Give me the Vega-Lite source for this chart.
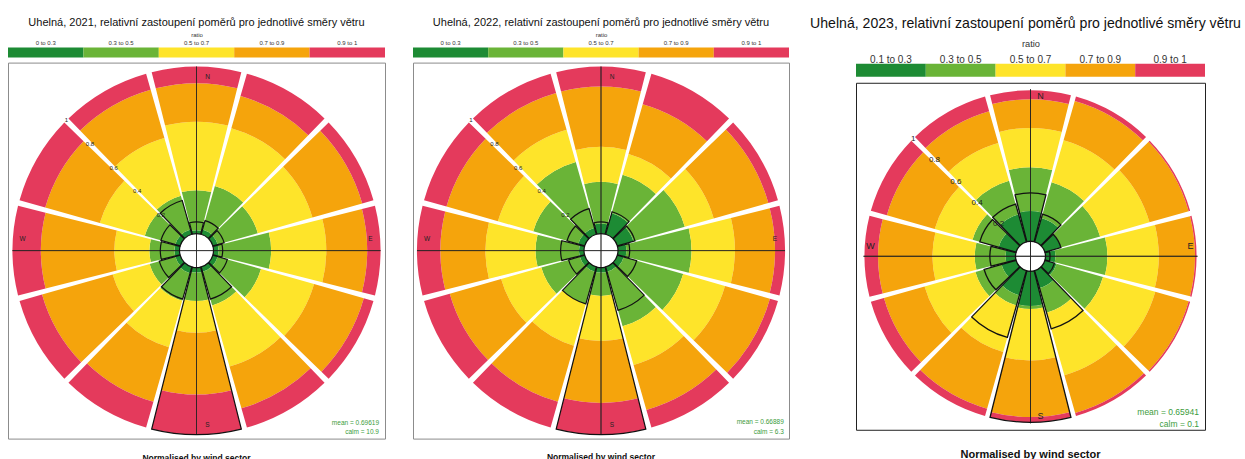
{
  "$schema": "https://vega.github.io/schema/vega-lite/v6.json",
  "padding": {"left": 7, "top": 15.5, "right": 0, "bottom": 0},
  "autosize": {"type": "pad"},
  "config": {"font": "Liberation Sans", "view": {"stroke": "#8c8c8c", "strokeWidth": 1}},
  "datasets": {
    "key12": [{"c": "0 to 0.3"}, {"c": "0.3 to 0.5"}, {"c": "0.5 to 0.7"}, {"c": "0.7 to 0.9"}, {"c": "0.9 to 1"}],
    "key3": [{"c": "0.1 to 0.3"}, {"c": "0.3 to 0.5"}, {"c": "0.5 to 0.7"}, {"c": "0.7 to 0.9"}, {"c": "0.9 to 1"}],
    "a21": [
      {"d":0,"c":"0 to 0.3","lo":0,"hi":0.02},{"d":0,"c":"0.3 to 0.5","lo":0.02,"hi":0.26},{"d":0,"c":"0.5 to 0.7","lo":0.26,"hi":0.67},{"d":0,"c":"0.7 to 0.9","lo":0.67,"hi":0.9},{"d":0,"c":"0.9 to 1","lo":0.9,"hi":1},
      {"d":30,"c":"0 to 0.3","lo":0,"hi":0.03},{"d":30,"c":"0.3 to 0.5","lo":0.03,"hi":0.3},{"d":30,"c":"0.5 to 0.7","lo":0.3,"hi":0.66},{"d":30,"c":"0.7 to 0.9","lo":0.66,"hi":0.86},{"d":30,"c":"0.9 to 1","lo":0.86,"hi":1},
      {"d":60,"c":"0 to 0.3","lo":0,"hi":0.03},{"d":60,"c":"0.3 to 0.5","lo":0.03,"hi":0.28},{"d":60,"c":"0.5 to 0.7","lo":0.28,"hi":0.62},{"d":60,"c":"0.7 to 0.9","lo":0.62,"hi":0.93},{"d":60,"c":"0.9 to 1","lo":0.93,"hi":1},
      {"d":90,"c":"0 to 0.3","lo":0,"hi":0.03},{"d":90,"c":"0.3 to 0.5","lo":0.03,"hi":0.345},{"d":90,"c":"0.5 to 0.7","lo":0.345,"hi":0.675},{"d":90,"c":"0.7 to 0.9","lo":0.675,"hi":0.92},{"d":90,"c":"0.9 to 1","lo":0.92,"hi":1},
      {"d":120,"c":"0 to 0.3","lo":0,"hi":0.03},{"d":120,"c":"0.3 to 0.5","lo":0.03,"hi":0.3},{"d":120,"c":"0.5 to 0.7","lo":0.3,"hi":0.63},{"d":120,"c":"0.7 to 0.9","lo":0.63,"hi":0.94},{"d":120,"c":"0.9 to 1","lo":0.94,"hi":1},
      {"d":150,"c":"0 to 0.3","lo":0,"hi":0.03},{"d":150,"c":"0.3 to 0.5","lo":0.03,"hi":0.24},{"d":150,"c":"0.5 to 0.7","lo":0.24,"hi":0.62},{"d":150,"c":"0.7 to 0.9","lo":0.62,"hi":0.88},{"d":150,"c":"0.9 to 1","lo":0.88,"hi":1},
      {"d":180,"c":"0 to 0.3","lo":0,"hi":0.03},{"d":180,"c":"0.3 to 0.5","lo":0.03,"hi":0.2},{"d":180,"c":"0.5 to 0.7","lo":0.2,"hi":0.39},{"d":180,"c":"0.7 to 0.9","lo":0.39,"hi":0.76},{"d":180,"c":"0.9 to 1","lo":0.76,"hi":1},
      {"d":210,"c":"0 to 0.3","lo":0,"hi":0.04},{"d":210,"c":"0.3 to 0.5","lo":0.04,"hi":0.21},{"d":210,"c":"0.5 to 0.7","lo":0.21,"hi":0.5},{"d":210,"c":"0.7 to 0.9","lo":0.5,"hi":0.84},{"d":210,"c":"0.9 to 1","lo":0.84,"hi":1},
      {"d":240,"c":"0 to 0.3","lo":0,"hi":0.03},{"d":240,"c":"0.3 to 0.5","lo":0.03,"hi":0.19},{"d":240,"c":"0.5 to 0.7","lo":0.19,"hi":0.42},{"d":240,"c":"0.7 to 0.9","lo":0.42,"hi":0.86},{"d":240,"c":"0.9 to 1","lo":0.86,"hi":1},
      {"d":270,"c":"0 to 0.3","lo":0,"hi":0.03},{"d":270,"c":"0.3 to 0.5","lo":0.03,"hi":0.18},{"d":270,"c":"0.5 to 0.7","lo":0.18,"hi":0.39},{"d":270,"c":"0.7 to 0.9","lo":0.39,"hi":0.83},{"d":270,"c":"0.9 to 1","lo":0.83,"hi":1},
      {"d":300,"c":"0 to 0.3","lo":0,"hi":0.03},{"d":300,"c":"0.3 to 0.5","lo":0.03,"hi":0.22},{"d":300,"c":"0.5 to 0.7","lo":0.22,"hi":0.5},{"d":300,"c":"0.7 to 0.9","lo":0.5,"hi":0.84},{"d":300,"c":"0.9 to 1","lo":0.84,"hi":1},
      {"d":330,"c":"0 to 0.3","lo":0,"hi":0.03},{"d":330,"c":"0.3 to 0.5","lo":0.03,"hi":0.24},{"d":330,"c":"0.5 to 0.7","lo":0.24,"hi":0.6},{"d":330,"c":"0.7 to 0.9","lo":0.6,"hi":0.9},{"d":330,"c":"0.9 to 1","lo":0.9,"hi":1}
    ],
    "a22": [
      {"d":0,"c":"0 to 0.3","lo":0,"hi":0.06},{"d":0,"c":"0.3 to 0.5","lo":0.06,"hi":0.31},{"d":0,"c":"0.5 to 0.7","lo":0.31,"hi":0.52},{"d":0,"c":"0.7 to 0.9","lo":0.52,"hi":0.88},{"d":0,"c":"0.9 to 1","lo":0.88,"hi":1},
      {"d":30,"c":"0 to 0.3","lo":0,"hi":0.13},{"d":30,"c":"0.3 to 0.5","lo":0.13,"hi":0.37},{"d":30,"c":"0.5 to 0.7","lo":0.37,"hi":0.5},{"d":30,"c":"0.7 to 0.9","lo":0.5,"hi":0.81},{"d":30,"c":"0.9 to 1","lo":0.81,"hi":1},
      {"d":60,"c":"0 to 0.3","lo":0,"hi":0.1},{"d":60,"c":"0.3 to 0.5","lo":0.1,"hi":0.42},{"d":60,"c":"0.5 to 0.7","lo":0.42,"hi":0.6},{"d":60,"c":"0.7 to 0.9","lo":0.6,"hi":0.94},{"d":60,"c":"0.9 to 1","lo":0.94,"hi":1},
      {"d":90,"c":"0 to 0.3","lo":0,"hi":0.05},{"d":90,"c":"0.3 to 0.5","lo":0.05,"hi":0.44},{"d":90,"c":"0.5 to 0.7","lo":0.44,"hi":0.7},{"d":90,"c":"0.7 to 0.9","lo":0.7,"hi":0.94},{"d":90,"c":"0.9 to 1","lo":0.94,"hi":1},
      {"d":120,"c":"0 to 0.3","lo":0,"hi":0.04},{"d":120,"c":"0.3 to 0.5","lo":0.04,"hi":0.41},{"d":120,"c":"0.5 to 0.7","lo":0.41,"hi":0.67},{"d":120,"c":"0.7 to 0.9","lo":0.67,"hi":0.95},{"d":120,"c":"0.9 to 1","lo":0.95,"hi":1},
      {"d":150,"c":"0 to 0.3","lo":0,"hi":0.03},{"d":150,"c":"0.3 to 0.5","lo":0.03,"hi":0.37},{"d":150,"c":"0.5 to 0.7","lo":0.37,"hi":0.61},{"d":150,"c":"0.7 to 0.9","lo":0.61,"hi":0.89},{"d":150,"c":"0.9 to 1","lo":0.89,"hi":1},
      {"d":180,"c":"0 to 0.3","lo":0,"hi":0.03},{"d":180,"c":"0.3 to 0.5","lo":0.03,"hi":0.17},{"d":180,"c":"0.5 to 0.7","lo":0.17,"hi":0.44},{"d":180,"c":"0.7 to 0.9","lo":0.44,"hi":0.81},{"d":180,"c":"0.9 to 1","lo":0.81,"hi":1},
      {"d":210,"c":"0 to 0.3","lo":0,"hi":0.03},{"d":210,"c":"0.3 to 0.5","lo":0.03,"hi":0.23},{"d":210,"c":"0.5 to 0.7","lo":0.23,"hi":0.49},{"d":210,"c":"0.7 to 0.9","lo":0.49,"hi":0.84},{"d":210,"c":"0.9 to 1","lo":0.84,"hi":1},
      {"d":240,"c":"0 to 0.3","lo":0,"hi":0.03},{"d":240,"c":"0.3 to 0.5","lo":0.03,"hi":0.27},{"d":240,"c":"0.5 to 0.7","lo":0.27,"hi":0.52},{"d":240,"c":"0.7 to 0.9","lo":0.52,"hi":0.84},{"d":240,"c":"0.9 to 1","lo":0.84,"hi":1},
      {"d":270,"c":"0 to 0.3","lo":0,"hi":0.03},{"d":270,"c":"0.3 to 0.5","lo":0.03,"hi":0.29},{"d":270,"c":"0.5 to 0.7","lo":0.29,"hi":0.59},{"d":270,"c":"0.7 to 0.9","lo":0.59,"hi":0.86},{"d":270,"c":"0.9 to 1","lo":0.86,"hi":1},
      {"d":300,"c":"0 to 0.3","lo":0,"hi":0.04},{"d":300,"c":"0.3 to 0.5","lo":0.04,"hi":0.32},{"d":300,"c":"0.5 to 0.7","lo":0.32,"hi":0.54},{"d":300,"c":"0.7 to 0.9","lo":0.54,"hi":0.86},{"d":300,"c":"0.9 to 1","lo":0.86,"hi":1},
      {"d":330,"c":"0 to 0.3","lo":0,"hi":0.04},{"d":330,"c":"0.3 to 0.5","lo":0.04,"hi":0.45},{"d":330,"c":"0.5 to 0.7","lo":0.45,"hi":0.65},{"d":330,"c":"0.7 to 0.9","lo":0.65,"hi":0.88},{"d":330,"c":"0.9 to 1","lo":0.88,"hi":1}
    ],
    "a23": [
      {"d":0,"c":"0.1 to 0.3","lo":0,"hi":0.2},{"d":0,"c":"0.3 to 0.5","lo":0.2,"hi":0.49},{"d":0,"c":"0.5 to 0.7","lo":0.49,"hi":0.75},{"d":0,"c":"0.7 to 0.9","lo":0.75,"hi":0.94},{"d":0,"c":"0.9 to 1","lo":0.94,"hi":1},
      {"d":30,"c":"0.1 to 0.3","lo":0,"hi":0.165},{"d":30,"c":"0.3 to 0.5","lo":0.165,"hi":0.41},{"d":30,"c":"0.5 to 0.7","lo":0.41,"hi":0.7},{"d":30,"c":"0.7 to 0.9","lo":0.7,"hi":0.97},{"d":30,"c":"0.9 to 1","lo":0.97,"hi":1},
      {"d":60,"c":"0.1 to 0.3","lo":0,"hi":0.11},{"d":60,"c":"0.3 to 0.5","lo":0.11,"hi":0.38},{"d":60,"c":"0.5 to 0.7","lo":0.38,"hi":0.72},{"d":60,"c":"0.7 to 0.9","lo":0.72,"hi":0.99},{"d":60,"c":"0.9 to 1","lo":0.99,"hi":1},
      {"d":90,"c":"0.1 to 0.3","lo":0,"hi":0.066},{"d":90,"c":"0.3 to 0.5","lo":0.066,"hi":0.41},{"d":90,"c":"0.5 to 0.7","lo":0.41,"hi":0.75},{"d":90,"c":"0.7 to 0.9","lo":0.75,"hi":0.99},{"d":90,"c":"0.9 to 1","lo":0.99,"hi":1},
      {"d":120,"c":"0.1 to 0.3","lo":0,"hi":0.08},{"d":120,"c":"0.3 to 0.5","lo":0.08,"hi":0.4},{"d":120,"c":"0.5 to 0.7","lo":0.4,"hi":0.76},{"d":120,"c":"0.7 to 0.9","lo":0.76,"hi":0.99},{"d":120,"c":"0.9 to 1","lo":0.99,"hi":1},
      {"d":150,"c":"0.1 to 0.3","lo":0,"hi":0.12},{"d":150,"c":"0.3 to 0.5","lo":0.12,"hi":0.29},{"d":150,"c":"0.5 to 0.7","lo":0.29,"hi":0.72},{"d":150,"c":"0.7 to 0.9","lo":0.72,"hi":0.98},{"d":150,"c":"0.9 to 1","lo":0.98,"hi":1},
      {"d":180,"c":"0.1 to 0.3","lo":0,"hi":0.23},{"d":180,"c":"0.3 to 0.5","lo":0.23,"hi":0.25},{"d":180,"c":"0.5 to 0.7","lo":0.25,"hi":0.59},{"d":180,"c":"0.7 to 0.9","lo":0.59,"hi":0.965},{"d":180,"c":"0.9 to 1","lo":0.965,"hi":1},
      {"d":210,"c":"0.1 to 0.3","lo":0,"hi":0.17},{"d":210,"c":"0.3 to 0.5","lo":0.17,"hi":0.24},{"d":210,"c":"0.5 to 0.7","lo":0.24,"hi":0.56},{"d":210,"c":"0.7 to 0.9","lo":0.56,"hi":0.95},{"d":210,"c":"0.9 to 1","lo":0.95,"hi":1},
      {"d":240,"c":"0.1 to 0.3","lo":0,"hi":0.1},{"d":240,"c":"0.3 to 0.5","lo":0.1,"hi":0.28},{"d":240,"c":"0.5 to 0.7","lo":0.28,"hi":0.63},{"d":240,"c":"0.7 to 0.9","lo":0.63,"hi":0.91},{"d":240,"c":"0.9 to 1","lo":0.91,"hi":1},
      {"d":270,"c":"0.1 to 0.3","lo":0,"hi":0.066},{"d":270,"c":"0.3 to 0.5","lo":0.066,"hi":0.27},{"d":270,"c":"0.5 to 0.7","lo":0.27,"hi":0.55},{"d":270,"c":"0.7 to 0.9","lo":0.55,"hi":0.91},{"d":270,"c":"0.9 to 1","lo":0.91,"hi":1},
      {"d":300,"c":"0.1 to 0.3","lo":0,"hi":0.12},{"d":300,"c":"0.3 to 0.5","lo":0.12,"hi":0.3},{"d":300,"c":"0.5 to 0.7","lo":0.3,"hi":0.56},{"d":300,"c":"0.7 to 0.9","lo":0.56,"hi":0.89},{"d":300,"c":"0.9 to 1","lo":0.89,"hi":1},
      {"d":330,"c":"0.1 to 0.3","lo":0,"hi":0.19},{"d":330,"c":"0.3 to 0.5","lo":0.19,"hi":0.42},{"d":330,"c":"0.5 to 0.7","lo":0.42,"hi":0.68},{"d":330,"c":"0.7 to 0.9","lo":0.68,"hi":0.9},{"d":330,"c":"0.9 to 1","lo":0.9,"hi":1}
    ],
    "f21": [{"d":0,"f":0.07},{"d":30,"f":0.085},{"d":60,"f":0.07},{"d":90,"f":0.055},{"d":120,"f":0.09},{"d":150,"f":0.2},{"d":180,"f":1},{"d":210,"f":0.2},{"d":240,"f":0.13},{"d":270,"f":0.115},{"d":300,"f":0.12},{"d":330,"f":0.21}],
    "f22": [{"d":0,"f":0.07},{"d":30,"f":0.14},{"d":60,"f":0.11},{"d":90,"f":0.07},{"d":120,"f":0.12},{"d":150,"f":0.27},{"d":180,"f":1},{"d":210,"f":0.23},{"d":240,"f":0.1},{"d":270,"f":0.14},{"d":300,"f":0.11},{"d":330,"f":0.16}],
    "f23": [{"d":0,"f":0.32},{"d":30,"f":0.19},{"d":60,"f":0.11},{"d":90,"f":0.03},{"d":120,"f":0.066},{"d":150,"f":0.4},{"d":180,"f":1},{"d":210,"f":0.46},{"d":240,"f":0.22},{"d":270,"f":0.17},{"d":300,"f":0.25},{"d":330,"f":0.26}],
    "spokes": [{"dir":0},{"dir":90},{"dir":180},{"dir":270}],
    "ns": [{"lab":"N","dir":0},{"lab":"S","dir":180}],
    "ew": [{"lab":"E","dir":90},{"lab":"W","dir":270}],
    "rlab": [{"t":"0.2","v":0.2},{"t":"0.4","v":0.4},{"t":"0.6","v":0.6},{"t":"0.8","v":0.8},{"t":"1","v":1}],
    "one": [{}]
  },
  "resolve": {"scale": {"color": "independent", "theta": "independent", "radius": "independent", "x": "independent", "y": "independent"}},
  "spacing": 19,
  "center": true,
  "hconcat": [
    {
      "spacing": 26,
      "resolve": {"scale": {"color": "independent", "theta": "independent", "radius": "independent", "x": "independent", "y": "independent"}},
      "hconcat": [
        {
          "width": 377, "height": 376,
          "title": {"text": "Uhelná, 2021, relativní zastoupení poměrů pro jednotlivé směry větru", "fontSize": 11, "fontWeight": "normal", "color": "#111", "anchor": "middle", "frame": "group", "offset": 4},
          "resolve": {"scale": {"theta": "independent", "radius": "independent"}},
          "layer": [
            {"data": {"name": "key12"}, "mark": {"type": "rect"}, "encoding": {
              "x": {"field": "c", "type": "nominal", "sort": null, "scale": {"domain": ["0 to 0.3","0.3 to 0.5","0.5 to 0.7","0.7 to 0.9","0.9 to 1"], "paddingInner": 0, "paddingOuter": 0}, "axis": {"orient": "top", "offset": 15, "title": "ratio", "titleFontSize": 6, "titleFontWeight": "normal", "titleColor": "#333", "titlePadding": 2, "labelFontSize": 6, "labelColor": "#333", "labelPadding": 2, "labelAngle": 0, "ticks": false, "domain": false, "grid": false}},
              "y": {"datum": 0, "type": "quantitative", "scale": {"domain": [0, 1], "range": [-5, -15]}, "axis": null},
              "y2": {"datum": 1},
              "color": {"field": "c", "type": "nominal", "scale": {"domain": ["0 to 0.3","0.3 to 0.5","0.5 to 0.7","0.7 to 0.9","0.9 to 1"], "range": ["#1d8b34","#6ab437","#fee42a","#f5a40c","#e43a5c"]}, "legend": null}}},
            {"data": {"name": "a21"}, "mark": {"type": "arc"}, "encoding": {
              "theta": {"field": "d", "type": "ordinal", "scale": {"type": "band", "domain": [0,30,60,90,120,150,180,210,240,270,300,330], "range": [-0.261799, 6.021386], "paddingInner": 0.06, "paddingOuter": 0.03}},
              "radius": {"field": "lo", "type": "quantitative", "scale": {"type": "linear", "domain": [0, 1], "range": [17, 184], "zero": false}},
              "radius2": {"field": "hi"},
              "color": {"field": "c", "type": "nominal", "scale": {"domain": ["0 to 0.3","0.3 to 0.5","0.5 to 0.7","0.7 to 0.9","0.9 to 1"], "range": ["#1d8b34","#6ab437","#fee42a","#f5a40c","#e43a5c"]}, "legend": null}}},
            {"data": {"name": "spokes"}, "mark": {"type": "arc", "fillOpacity": 0, "stroke": "#222", "strokeWidth": 0.7}, "encoding": {
              "theta": {"field": "dir", "type": "quantitative", "scale": {"domain": [0, 360], "range": [0, 6.283185]}},
              "theta2": {"field": "dir"},
              "radius": {"datum": 1, "type": "quantitative", "scale": {"type": "linear", "domain": [0, 1], "range": [0, 184]}},
              "radius2": {"datum": 0}}},
            {"data": {"name": "f21"}, "mark": {"type": "arc", "fillOpacity": 0, "stroke": "#111", "strokeWidth": 1.2}, "encoding": {
              "theta": {"field": "d", "type": "ordinal", "scale": {"type": "band", "domain": [0,30,60,90,120,150,180,210,240,270,300,330], "range": [-0.261799, 6.021386], "paddingInner": 0.06, "paddingOuter": 0.03}},
              "radius": {"field": "f", "type": "quantitative", "scale": {"type": "linear", "domain": [0, 1], "range": [17, 184], "zero": false}},
              "radius2": {"datum": 0}}},
            {"data": {"name": "ns"}, "mark": {"type": "text", "fontSize": 6.5, "color": "#222", "dx": 11}, "encoding": {
              "theta": {"field": "dir", "type": "quantitative", "scale": {"domain": [0, 360], "range": [0, 6.283185]}},
              "radius": {"datum": 0.94, "type": "quantitative", "scale": {"type": "linear", "domain": [0, 1], "range": [17, 184], "zero": false}},
              "text": {"field": "lab"}}},
            {"data": {"name": "ew"}, "mark": {"type": "text", "fontSize": 6.5, "color": "#222", "dy": -12}, "encoding": {
              "theta": {"field": "dir", "type": "quantitative", "scale": {"domain": [0, 360], "range": [0, 6.283185]}},
              "radius": {"datum": 0.94, "type": "quantitative", "scale": {"type": "linear", "domain": [0, 1], "range": [17, 184], "zero": false}},
              "text": {"field": "lab"}}},
            {"data": {"name": "rlab"}, "mark": {"type": "text", "fontSize": 6, "color": "#222"}, "encoding": {
              "theta": {"datum": 315, "type": "quantitative", "scale": {"domain": [0, 360], "range": [0, 6.283185]}},
              "radius": {"field": "v", "type": "quantitative", "scale": {"type": "linear", "domain": [0, 1], "range": [17, 184], "zero": false}},
              "text": {"field": "t"}}},
            {"data": {"name": "one"}, "mark": {"type": "text", "fontSize": 6.5, "color": "#3c9c3c", "align": "right", "text": "mean = 0.69619"}, "encoding": {
              "theta": {"datum": 133.3, "type": "quantitative", "scale": {"domain": [0, 360], "range": [0, 6.283185]}},
              "radius": {"datum": 1.4, "type": "quantitative", "scale": {"type": "linear", "domain": [0, 1], "range": [17, 184], "zero": false}}}},
            {"data": {"name": "one"}, "mark": {"type": "text", "fontSize": 6.5, "color": "#3c9c3c", "align": "right", "text": "calm = 10.9"}, "encoding": {
              "theta": {"datum": 134.9, "type": "quantitative", "scale": {"domain": [0, 360], "range": [0, 6.283185]}},
              "radius": {"datum": 1.441, "type": "quantitative", "scale": {"type": "linear", "domain": [0, 1], "range": [17, 184], "zero": false}}}},
            {"data": {"name": "one"}, "mark": {"type": "text", "fontSize": 8.5, "fontWeight": "bold", "color": "#111", "baseline": "top", "lineHeight": 17.5, "text": ["Normalised by wind sector", ""]}, "encoding": {
              "theta": {"datum": 180, "type": "quantitative", "scale": {"domain": [0, 360], "range": [0, 6.283185]}},
              "radius": {"datum": 1.1156, "type": "quantitative", "scale": {"type": "linear", "domain": [0, 1], "range": [17, 184], "zero": false}}}}
          ]
        },
        {
          "width": 376, "height": 376,
          "title": {"text": "Uhelná, 2022, relativní zastoupení poměrů pro jednotlivé směry větru", "fontSize": 11, "fontWeight": "normal", "color": "#111", "anchor": "middle", "frame": "group", "offset": 4},
          "resolve": {"scale": {"theta": "independent", "radius": "independent"}},
          "layer": [
            {"data": {"name": "key12"}, "mark": {"type": "rect"}, "encoding": {
              "x": {"field": "c", "type": "nominal", "sort": null, "scale": {"domain": ["0 to 0.3","0.3 to 0.5","0.5 to 0.7","0.7 to 0.9","0.9 to 1"], "paddingInner": 0, "paddingOuter": 0}, "axis": {"orient": "top", "offset": 15, "title": "ratio", "titleFontSize": 6, "titleFontWeight": "normal", "titleColor": "#333", "titlePadding": 2, "labelFontSize": 6, "labelColor": "#333", "labelPadding": 2, "labelAngle": 0, "ticks": false, "domain": false, "grid": false}},
              "y": {"datum": 0, "type": "quantitative", "scale": {"domain": [0, 1], "range": [-5, -15]}, "axis": null},
              "y2": {"datum": 1},
              "color": {"field": "c", "type": "nominal", "scale": {"domain": ["0 to 0.3","0.3 to 0.5","0.5 to 0.7","0.7 to 0.9","0.9 to 1"], "range": ["#1d8b34","#6ab437","#fee42a","#f5a40c","#e43a5c"]}, "legend": null}}},
            {"data": {"name": "a22"}, "mark": {"type": "arc"}, "encoding": {
              "theta": {"field": "d", "type": "ordinal", "scale": {"type": "band", "domain": [0,30,60,90,120,150,180,210,240,270,300,330], "range": [-0.261799, 6.021386], "paddingInner": 0.06, "paddingOuter": 0.03}},
              "radius": {"field": "lo", "type": "quantitative", "scale": {"type": "linear", "domain": [0, 1], "range": [17, 184], "zero": false}},
              "radius2": {"field": "hi"},
              "color": {"field": "c", "type": "nominal", "scale": {"domain": ["0 to 0.3","0.3 to 0.5","0.5 to 0.7","0.7 to 0.9","0.9 to 1"], "range": ["#1d8b34","#6ab437","#fee42a","#f5a40c","#e43a5c"]}, "legend": null}}},
            {"data": {"name": "spokes"}, "mark": {"type": "arc", "fillOpacity": 0, "stroke": "#222", "strokeWidth": 0.7}, "encoding": {
              "theta": {"field": "dir", "type": "quantitative", "scale": {"domain": [0, 360], "range": [0, 6.283185]}},
              "theta2": {"field": "dir"},
              "radius": {"datum": 1, "type": "quantitative", "scale": {"type": "linear", "domain": [0, 1], "range": [0, 184]}},
              "radius2": {"datum": 0}}},
            {"data": {"name": "f22"}, "mark": {"type": "arc", "fillOpacity": 0, "stroke": "#111", "strokeWidth": 1.2}, "encoding": {
              "theta": {"field": "d", "type": "ordinal", "scale": {"type": "band", "domain": [0,30,60,90,120,150,180,210,240,270,300,330], "range": [-0.261799, 6.021386], "paddingInner": 0.06, "paddingOuter": 0.03}},
              "radius": {"field": "f", "type": "quantitative", "scale": {"type": "linear", "domain": [0, 1], "range": [17, 184], "zero": false}},
              "radius2": {"datum": 0}}},
            {"data": {"name": "ns"}, "mark": {"type": "text", "fontSize": 6.5, "color": "#222", "dx": 11}, "encoding": {
              "theta": {"field": "dir", "type": "quantitative", "scale": {"domain": [0, 360], "range": [0, 6.283185]}},
              "radius": {"datum": 0.94, "type": "quantitative", "scale": {"type": "linear", "domain": [0, 1], "range": [17, 184], "zero": false}},
              "text": {"field": "lab"}}},
            {"data": {"name": "ew"}, "mark": {"type": "text", "fontSize": 6.5, "color": "#222", "dy": -12}, "encoding": {
              "theta": {"field": "dir", "type": "quantitative", "scale": {"domain": [0, 360], "range": [0, 6.283185]}},
              "radius": {"datum": 0.94, "type": "quantitative", "scale": {"type": "linear", "domain": [0, 1], "range": [17, 184], "zero": false}},
              "text": {"field": "lab"}}},
            {"data": {"name": "rlab"}, "mark": {"type": "text", "fontSize": 6, "color": "#222"}, "encoding": {
              "theta": {"datum": 315, "type": "quantitative", "scale": {"domain": [0, 360], "range": [0, 6.283185]}},
              "radius": {"field": "v", "type": "quantitative", "scale": {"type": "linear", "domain": [0, 1], "range": [17, 184], "zero": false}},
              "text": {"field": "t"}}},
            {"data": {"name": "one"}, "mark": {"type": "text", "fontSize": 6.5, "color": "#3c9c3c", "align": "right", "text": "mean = 0.66889"}, "encoding": {
              "theta": {"datum": 133.2, "type": "quantitative", "scale": {"domain": [0, 360], "range": [0, 6.283185]}},
              "radius": {"datum": 1.4, "type": "quantitative", "scale": {"type": "linear", "domain": [0, 1], "range": [17, 184], "zero": false}}}},
            {"data": {"name": "one"}, "mark": {"type": "text", "fontSize": 6.5, "color": "#3c9c3c", "align": "right", "text": "calm = 6.3"}, "encoding": {
              "theta": {"datum": 134.8, "type": "quantitative", "scale": {"domain": [0, 360], "range": [0, 6.283185]}},
              "radius": {"datum": 1.441, "type": "quantitative", "scale": {"type": "linear", "domain": [0, 1], "range": [17, 184], "zero": false}}}},
            {"data": {"name": "one"}, "mark": {"type": "text", "fontSize": 8.5, "fontWeight": "bold", "color": "#111", "baseline": "top", "lineHeight": 17.5, "text": ["Normalised by wind sector", ""]}, "encoding": {
              "theta": {"datum": 180, "type": "quantitative", "scale": {"domain": [0, 360], "range": [0, 6.283185]}},
              "radius": {"datum": 1.1096, "type": "quantitative", "scale": {"type": "linear", "domain": [0, 1], "range": [17, 184], "zero": false}}}}
          ]
        }
      ]
    },
    {
      "width": 349, "height": 347,
      "view": {"stroke": "#222"},
      "title": {"text": "Uhelná, 2023, relativní zastoupení poměrů pro jednotlivé směry větru", "fontSize": 14.1, "fontWeight": "normal", "color": "#111", "anchor": "middle", "frame": "group", "offset": 9, "dx": -5},
      "resolve": {"scale": {"theta": "independent", "radius": "independent"}},
      "layer": [
        {"data": {"name": "key3"}, "mark": {"type": "rect"}, "encoding": {
          "x": {"field": "c", "type": "nominal", "sort": null, "scale": {"domain": ["0.1 to 0.3","0.3 to 0.5","0.5 to 0.7","0.7 to 0.9","0.9 to 1"], "paddingInner": 0, "paddingOuter": 0}, "axis": {"orient": "top", "offset": 19, "title": "ratio", "titleFontSize": 9.3, "titleFontWeight": "normal", "titleColor": "#333", "titlePadding": 6, "labelFontSize": 10, "labelColor": "#333", "labelPadding": -1, "labelAngle": 0, "ticks": false, "domain": false, "grid": false}},
          "y": {"datum": 0, "type": "quantitative", "scale": {"domain": [0, 1], "range": [-6, -19]}, "axis": null},
          "y2": {"datum": 1},
          "color": {"field": "c", "type": "nominal", "scale": {"domain": ["0.1 to 0.3","0.3 to 0.5","0.5 to 0.7","0.7 to 0.9","0.9 to 1"], "range": ["#1d8b34","#6ab437","#fee42a","#f5a40c","#e43a5c"]}, "legend": null}}},
        {"data": {"name": "a23"}, "mark": {"type": "arc"}, "encoding": {
          "theta": {"field": "d", "type": "ordinal", "scale": {"type": "band", "domain": [0,30,60,90,120,150,180,210,240,270,300,330], "range": [-0.261799, 6.021386], "paddingInner": 0.06, "paddingOuter": 0.03}},
          "radius": {"field": "lo", "type": "quantitative", "scale": {"type": "linear", "domain": [0, 1], "range": [15, 166], "zero": false}},
          "radius2": {"field": "hi"},
          "color": {"field": "c", "type": "nominal", "scale": {"domain": ["0.1 to 0.3","0.3 to 0.5","0.5 to 0.7","0.7 to 0.9","0.9 to 1"], "range": ["#1d8b34","#6ab437","#fee42a","#f5a40c","#e43a5c"]}, "legend": null}}},
        {"data": {"name": "spokes"}, "mark": {"type": "arc", "fillOpacity": 0, "stroke": "#222", "strokeWidth": 0.8}, "encoding": {
          "theta": {"field": "dir", "type": "quantitative", "scale": {"domain": [0, 360], "range": [0, 6.283185]}},
          "theta2": {"field": "dir"},
          "radius": {"datum": 1, "type": "quantitative", "scale": {"type": "linear", "domain": [0, 1], "range": [0, 167]}},
          "radius2": {"datum": 0}}},
        {"data": {"name": "f23"}, "mark": {"type": "arc", "fillOpacity": 0, "stroke": "#111", "strokeWidth": 1.3}, "encoding": {
          "theta": {"field": "d", "type": "ordinal", "scale": {"type": "band", "domain": [0,30,60,90,120,150,180,210,240,270,300,330], "range": [-0.261799, 6.021386], "paddingInner": 0.06, "paddingOuter": 0.03}},
          "radius": {"field": "f", "type": "quantitative", "scale": {"type": "linear", "domain": [0, 1], "range": [15, 166], "zero": false}},
          "radius2": {"datum": 0}}},
        {"data": {"name": "ns"}, "mark": {"type": "text", "fontSize": 9, "color": "#222", "dx": 10}, "encoding": {
          "theta": {"field": "dir", "type": "quantitative", "scale": {"domain": [0, 360], "range": [0, 6.283185]}},
          "radius": {"datum": 0.96, "type": "quantitative", "scale": {"type": "linear", "domain": [0, 1], "range": [15, 166], "zero": false}},
          "text": {"field": "lab"}}},
        {"data": {"name": "ew"}, "mark": {"type": "text", "fontSize": 9, "color": "#222", "dy": -10}, "encoding": {
          "theta": {"field": "dir", "type": "quantitative", "scale": {"domain": [0, 360], "range": [0, 6.283185]}},
          "radius": {"datum": 0.96, "type": "quantitative", "scale": {"type": "linear", "domain": [0, 1], "range": [15, 166], "zero": false}},
          "text": {"field": "lab"}}},
        {"data": {"name": "rlab"}, "mark": {"type": "text", "fontSize": 8, "color": "#222"}, "encoding": {
          "theta": {"datum": 315, "type": "quantitative", "scale": {"domain": [0, 360], "range": [0, 6.283185]}},
          "radius": {"field": "v", "type": "quantitative", "scale": {"type": "linear", "domain": [0, 1], "range": [15, 166], "zero": false}},
          "text": {"field": "t"}}},
        {"data": {"name": "one"}, "mark": {"type": "text", "fontSize": 8.5, "color": "#3c9c3c", "align": "right", "text": "mean = 0.65941"}, "encoding": {
          "theta": {"datum": 132.7, "type": "quantitative", "scale": {"domain": [0, 360], "range": [0, 6.283185]}},
          "radius": {"datum": 1.419, "type": "quantitative", "scale": {"type": "linear", "domain": [0, 1], "range": [15, 166], "zero": false}}}},
        {"data": {"name": "one"}, "mark": {"type": "text", "fontSize": 8.5, "color": "#3c9c3c", "align": "right", "text": "calm = 0.1"}, "encoding": {
          "theta": {"datum": 134.8, "type": "quantitative", "scale": {"domain": [0, 360], "range": [0, 6.283185]}},
          "radius": {"datum": 1.474, "type": "quantitative", "scale": {"type": "linear", "domain": [0, 1], "range": [15, 166], "zero": false}}}},
        {"data": {"name": "one"}, "mark": {"type": "text", "fontSize": 11, "fontWeight": "bold", "color": "#111", "text": "Normalised by wind sector"}, "encoding": {
          "theta": {"datum": 180, "type": "quantitative", "scale": {"domain": [0, 360], "range": [0, 6.283185]}},
          "radius": {"datum": 1.215, "type": "quantitative", "scale": {"type": "linear", "domain": [0, 1], "range": [15, 166], "zero": false}}}}
      ]
    }
  ]
}
